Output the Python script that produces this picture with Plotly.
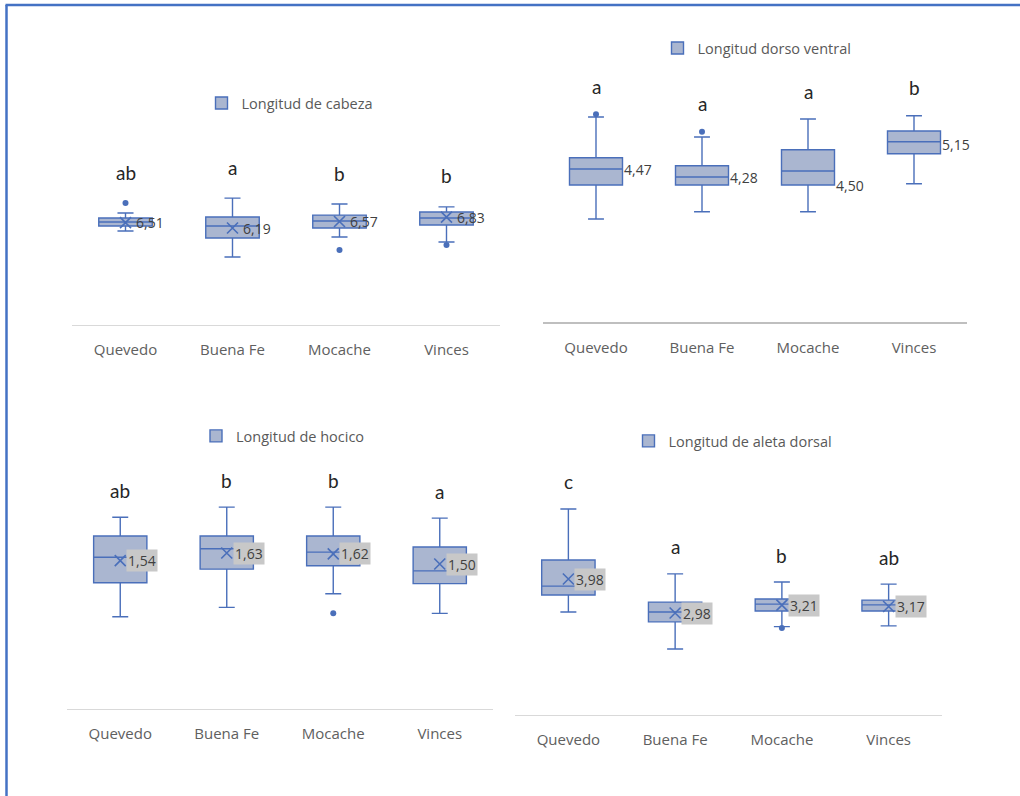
import plotly.graph_objects as go

W, H = 1020, 796

categories = ["Quevedo", "Buena Fe", "Mocache", "Vinces"]

# Panel 1: Longitud de cabeza
cabeza_name = "Longitud de cabeza"
cabeza_low = [6.01, 4.48, 5.66, 5.37]
cabeza_q1 = [6.31, 5.60, 6.19, 6.37]
cabeza_med = [6.54, 6.31, 6.60, 6.78]
cabeza_q3 = [6.78, 6.84, 6.95, 7.13]
cabeza_high = [7.07, 7.95, 7.60, 7.43]
cabeza_mean = [6.51, 6.19, 6.57, 6.83]
cabeza_out = [[7.66], [], [4.90], [5.19]]
cabeza_letters = ["ab", "a", "b", "b"]

# Panel 2: Longitud dorso ventral
dorso_name = "Longitud dorso ventral"
dorso_low = [3.23, 3.41, 3.41, 4.11]
dorso_q1 = [4.08, 4.08, 4.08, 4.86]
dorso_med = [4.48, 4.28, 4.43, 5.16]
dorso_q3 = [4.76, 4.56, 4.96, 5.43]
dorso_high = [5.78, 5.28, 5.73, 5.81]
dorso_mean = [4.47, 4.28, 4.50, 5.15]
dorso_out = [[5.85], [5.41], [], []]
dorso_letters = ["a", "a", "a", "b"]

# Panel 3: Longitud de hocico
hocico_name = "Longitud de hocico"
hocico_low = [0.88, 0.99, 1.15, 0.92]
hocico_q1 = [1.28, 1.44, 1.48, 1.27]
hocico_med = [1.58, 1.68, 1.64, 1.42]
hocico_q3 = [1.83, 1.83, 1.83, 1.70]
hocico_high = [2.05, 2.17, 2.17, 2.04]
hocico_mean = [1.54, 1.63, 1.62, 1.50]
hocico_out = [[], [], [0.92], []]
hocico_letters = ["ab", "b", "b", "a"]

# Panel 4: Longitud de aleta dorsal
aleta_name = "Longitud de aleta dorsal"
aleta_low = [3.01, 1.92, 2.58, 2.60]
aleta_q1 = [3.51, 2.72, 3.04, 3.04]
aleta_med = [3.77, 3.01, 3.24, 3.22]
aleta_q3 = [4.54, 3.30, 3.39, 3.36]
aleta_high = [6.04, 4.13, 3.89, 3.83]
aleta_mean = [3.98, 2.98, 3.21, 3.17]
aleta_out = [[], [], [2.54], []]
aleta_letters = ["c", "a", "b", "ab"]

BLUE = "#4a6fba"
FILL = "#aab6d0"
TXT = "#404040"

panels = [
    dict(name=cabeza_name, low=cabeza_low, q1=cabeza_q1, med=cabeza_med, q3=cabeza_q3,
         high=cabeza_high, mean=cabeza_mean, out=cabeza_out, letters=cabeza_letters,
         xpx=(72, 500), ypx=(120, 325), yr=(0.484, 12.543), leg=(290, 103),
         show_x=True, lab_shift=8, lab_bg=None, lab_dy=[0, 0, 0, 0],
         axcol="#d9d9d9", axw=1, lshift=31),
    dict(name=dorso_name, low=dorso_low, q1=dorso_q1, med=dorso_med, q3=dorso_q3,
         high=dorso_high, mean=dorso_mean, out=dorso_out, letters=dorso_letters,
         xpx=(543, 967), ypx=(60, 322), yr=(0.655, 7.205), leg=(757, 48),
         show_x=False, lab_shift=26, lab_bg=None, lab_dy=[0, 0, -17, -2],
         axcol="#bfbfbf", axw=2, lshift=28),
    dict(name=hocico_name, low=hocico_low, q1=hocico_q1, med=hocico_med, q3=hocico_q3,
         high=hocico_high, mean=hocico_mean, out=hocico_out, letters=hocico_letters,
         xpx=(67, 493), ypx=(460, 709), yr=(-0.205, 2.724), leg=(283, 436),
         show_x=True, lab_shift=6, lab_bg="#c8c8c8", lab_dy=[0, 0, 0, 0],
         axcol="#d9d9d9", axw=1, lshift=27),
    dict(name=aleta_name, low=aleta_low, q1=aleta_q1, med=aleta_med, q3=aleta_q3,
         high=aleta_high, mean=aleta_mean, out=aleta_out, letters=aleta_letters,
         xpx=(515, 942), ypx=(465, 715), yr=(-0.02, 7.333), leg=(733, 441),
         show_x=True, lab_shift=6, lab_bg="#c8c8c8", lab_dy=[0, 0, 0, 0],
         axcol="#d9d9d9", axw=1, lshift=27),
]

fig = go.Figure()
annotations = []
layout = {}
pos = list(range(len(categories)))

for k, p in enumerate(panels, start=1):
    sfx = "" if k == 1 else str(k)
    xa, ya = "x" + sfx, "y" + sfx
    leg = "legend" + sfx
    fig.add_trace(go.Box(
        x=pos, q1=p["q1"], median=p["med"], q3=p["q3"],
        lowerfence=p["low"], upperfence=p["high"],
        boxpoints=False, name=p["name"], fillcolor=FILL,
        line=dict(color=BLUE, width=1.4), width=0.5, whiskerwidth=0.3,
        xaxis=xa, yaxis=ya, legend=leg, showlegend=True, hoverinfo="skip"))
    ox, oy = [], []
    for i, vals in enumerate(p["out"]):
        for v in vals:
            ox.append(i)
            oy.append(v)
    if ox:
        fig.add_trace(go.Scatter(x=ox, y=oy, mode="markers",
                                 marker=dict(color=BLUE, size=6),
                                 xaxis=xa, yaxis=ya, showlegend=False))
    if p["show_x"]:
        fig.add_trace(go.Scatter(x=pos, y=p["mean"], mode="markers",
                                 marker=dict(symbol="x-thin-open", size=11, color=BLUE,
                                             line=dict(color=BLUE, width=1.6)),
                                 xaxis=xa, yaxis=ya, showlegend=False))
    for i, m in enumerate(p["mean"]):
        a = dict(x=i, y=m, xref=xa, yref=ya, text=f"{m:.2f}".replace(".", ","),
                 showarrow=False, xanchor="left", yanchor="middle",
                 xshift=p["lab_shift"], yshift=p["lab_dy"][i],
                 font=dict(family="Open Sans", size=14, color=TXT))
        if p["lab_bg"]:
            a["bgcolor"] = p["lab_bg"]
            a["borderpad"] = 1
        annotations.append(a)
    for i, letter in enumerate(p["letters"]):
        top = max([p["high"][i]] + p["out"][i])
        annotations.append(dict(x=i, y=top, xref=xa, yref=ya, text=letter,
                                showarrow=False, yshift=p["lshift"], yanchor="middle",
                                font=dict(family="Lato", size=19, color="#262626")))
    x0, x1 = p["xpx"]
    y0, y1 = p["ypx"]
    layout["xaxis" + sfx] = dict(
        domain=[x0 / W, x1 / W], anchor=ya, range=[-0.5, 3.5],
        tickvals=pos, ticktext=categories, showgrid=False, zeroline=False,
        showline=True, linecolor=p["axcol"], linewidth=p["axw"],
        ticks="outside", ticklen=11, tickcolor="rgba(0,0,0,0)",
        tickfont=dict(family="Open Sans", size=15, color="#606060"),
        fixedrange=True)
    layout["yaxis" + sfx] = dict(
        domain=[1 - y1 / H, 1 - y0 / H], anchor=xa, range=list(p["yr"]),
        visible=False, fixedrange=True)
    lx, ly = p["leg"]
    layout[leg] = dict(x=lx / W, y=1 - ly / H, xanchor="center", yanchor="middle",
                       orientation="h", bgcolor="rgba(0,0,0,0)",
                       font=dict(family="Open Sans", size=14.5, color="#595959"))

shapes = [
    dict(type="line", xref="paper", yref="paper", x0=6.5 / W, x1=6.5 / W,
         y0=0, y1=1 - 5 / H, line=dict(color="#4472c4", width=2.5)),
    dict(type="line", xref="paper", yref="paper", x0=5.5 / W, x1=1,
         y0=1 - 5 / H, y1=1 - 5 / H, line=dict(color="#4472c4", width=2.5)),
]

fig.update_layout(width=W, height=H, margin=dict(l=0, r=0, t=0, b=0),
                  paper_bgcolor="white", plot_bgcolor="white",
                  annotations=annotations, shapes=shapes, **layout)

fig.write_html("out.html", config={"displayModeBar": False},
               post_script="document.body.style.margin='0';document.body.style.overflow='hidden';")
